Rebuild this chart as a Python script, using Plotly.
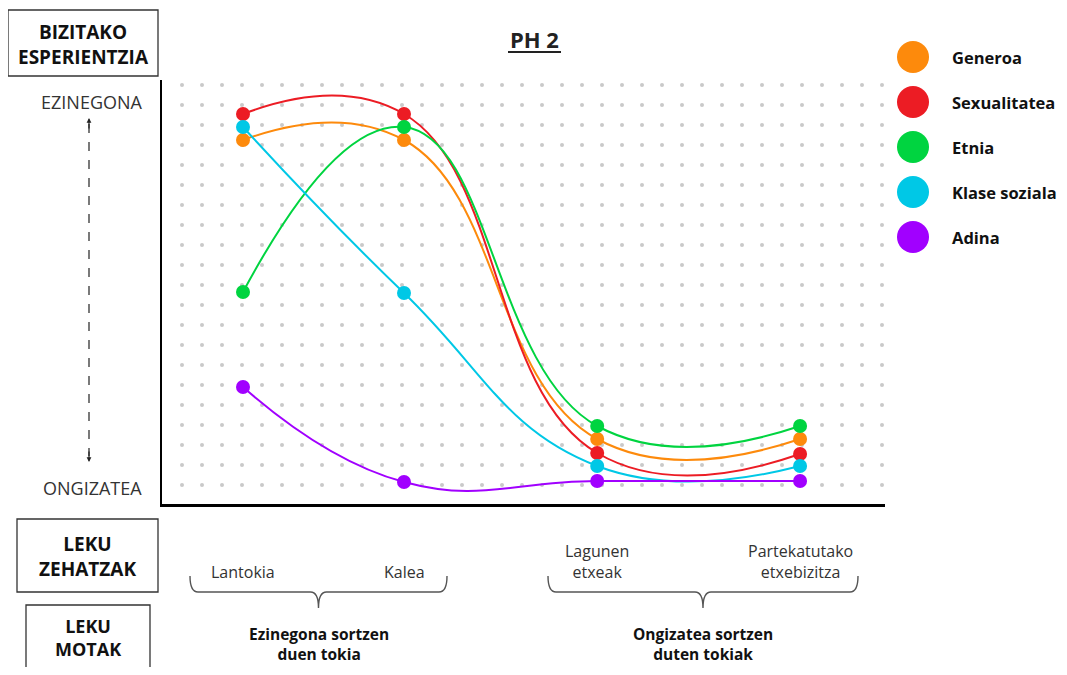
import numpy as np
import plotly.graph_objects as go

# page body has an 8px margin, so the figure is drawn 8px in from each edge
OFF = 8
W, H = 1067 - 2 * OFF, 675 - 2 * OFF

# ---- data ----
locations = ["Lantokia", "Kalea", "Lagunen<br>etxeak", "Partekatutako<br>etxebizitza"]
x_pos = [0, 1, 2.2, 3.46]
series_names = ["Generoa", "Sexualitatea", "Etnia", "Klase soziala", "Adina"]
generoa = [17.25, 17.25, 2.3, 2.3]
sexualitatea = [18.55, 18.55, 1.6, 1.55]
etnia = [9.65, 17.9, 2.95, 2.95]
klase_soziala = [17.9, 9.6, 0.95, 0.95]
adina = [4.9, 0.15, 0.2, 0.2]
series_values = [generoa, sexualitatea, etnia, klase_soziala, adina]
colors = ["#FD8A0C", "#EC1C24", "#00D440", "#00C8E6", "#A100FF"]
group_labels = ["Ezinegona sortzen<br>duen tokia", "Ongizatea sortzen<br>duten tokiak"]

FONT = "Open Sans"

def px(x):
    return (x - OFF) / W

def py(y):
    return 1 - (y - OFF) / H

fig = go.Figure()

# dotted background grid (decoration)
unit = 161.0
gx = np.arange(-61 / unit, 3.97, 20 / unit)
gy = np.arange(0, 20.01, 1)
GX, GY = np.meshgrid(gx, gy)
fig.add_trace(go.Scatter(x=GX.ravel(), y=GY.ravel(), mode="markers",
                         marker=dict(size=4, color="#c9c9c9"), hoverinfo="skip",
                         showlegend=False))

for name, vals, col in zip(series_names, series_values, colors):
    fig.add_trace(go.Scatter(x=x_pos, y=vals, name=name, mode="lines+markers",
                             line=dict(color=col, width=2, shape="spline", smoothing=1.3),
                             marker=dict(size=14, color=col), showlegend=False))

x_lo, x_hi = (162 - 243) / unit, (885 - 243) / unit
fig.update_layout(
    width=W, height=H, margin=dict(l=0, r=0, t=0, b=0),
    paper_bgcolor="white", plot_bgcolor="rgba(0,0,0,0)",
    font=dict(family=FONT, color="#222"),
    xaxis=dict(domain=[px(162), px(885)], range=[x_lo, x_hi], showgrid=False,
               zeroline=False, showticklabels=False, ticks="", showline=True,
               linecolor="black", linewidth=2.5, fixedrange=True),
    yaxis=dict(domain=[py(504), py(80)], range=[-0.95, 20.25], showgrid=False,
               zeroline=False, showticklabels=False, ticks="", showline=True,
               linecolor="black", linewidth=2, fixedrange=True),
)

ann = []
shapes = []

def text(x, y, s, size, color="#222", xref="paper", xanchor="center"):
    ann.append(dict(x=x if xref != "paper" else px(x), y=py(y), xref=xref, yref="paper",
                    showarrow=False, xanchor=xanchor, yanchor="middle", text=s,
                    font=dict(size=size, color=color, family=FONT)))

# title
text(534, 39, "<b>PH 2</b>", 22, "#222")
shapes.append(dict(type="line", xref="paper", yref="paper", x0=px(508), x1=px(561),
                   y0=py(52), y1=py(52), line=dict(color="#222", width=2)))

def box(x0, y0, x1, y1, s, cy, size=19):
    shapes.append(dict(type="rect", xref="paper", yref="paper", x0=px(x0), x1=px(x1),
                       y0=py(y0), y1=py(y1), line=dict(color="#333", width=1.3)))
    text((x0 + x1) / 2, cy, "<b>" + s + "</b>", size, "#111")

box(8, 10, 158, 76, "BIZITAKO<br>ESPERIENTZIA", 44)
box(17, 519, 158, 592, "LEKU<br>ZEHATZAK", 556)
box(26, 605, 150, 700, "LEKU<br>MOTAK", 637, 18)

text(92, 102, "EZINEGONA", 18, "#333")
text(92, 488, "ONGIZATEA", 18, "#333")

# dashed double arrow
shapes.append(dict(type="line", xref="paper", yref="paper", x0=px(89), x1=px(89),
                   y0=py(124), y1=py(456), line=dict(color="#222", width=1.2, dash="dash")))
for ytip, ytail in [(118, 130), (462, 450)]:
    ann.append(dict(x=px(89), y=py(ytip), xref="paper", yref="paper", ax=0,
                    ay=ytail - ytip, text="", showarrow=True, arrowhead=2,
                    arrowsize=0.8, arrowwidth=1.2, arrowcolor="#222"))

# category labels
for lab, xp in zip(locations, x_pos):
    yy = 572 if "<br>" not in lab else 561
    text(xp, yy, lab, 16, "#333", xref="x")

def brace(xa, xb, ytop=576, ymid=592, ytip=608):
    xc = (xa + xb) / 2
    pts = [("M", xa, ytop), ("Q", xa, ymid, xa + 8, ymid), ("L", xc - 8, ymid),
           ("Q", xc, ymid, xc, ytip), ("Q", xc, ymid, xc + 8, ymid),
           ("L", xb - 8, ymid), ("Q", xb, ymid, xb, ytop)]
    path = ""
    for p in pts:
        coords = p[1:]
        s = " ".join(f"{px(coords[i]):.5f},{py(coords[i+1]):.5f}" for i in range(0, len(coords), 2))
        path += f"{p[0]}{s} "
    shapes.append(dict(type="path", xref="paper", yref="paper", path=path.strip(),
                       line=dict(color="#555", width=1.4)))
    return xc

for (xa, xb), gl in zip([(190, 447), (548, 858)], group_labels):
    xc = brace(xa, xb)
    text(xc, 644, "<b>" + gl + "</b>", 15.5, "#111")

# legend
for i, (name, col) in enumerate(zip(series_names, colors)):
    cy = 57 + 45 * i
    r = 16
    shapes.append(dict(type="circle", xref="paper", yref="paper", x0=px(913 - r), x1=px(913 + r),
                       y0=py(cy - r), y1=py(cy + r), fillcolor=col, line=dict(width=0)))
    text(950, cy, "<b>" + name + "</b>", 16.5, "#111", xanchor="left")

fig.update_layout(annotations=ann, shapes=shapes)
fig.write_html("out.html")
